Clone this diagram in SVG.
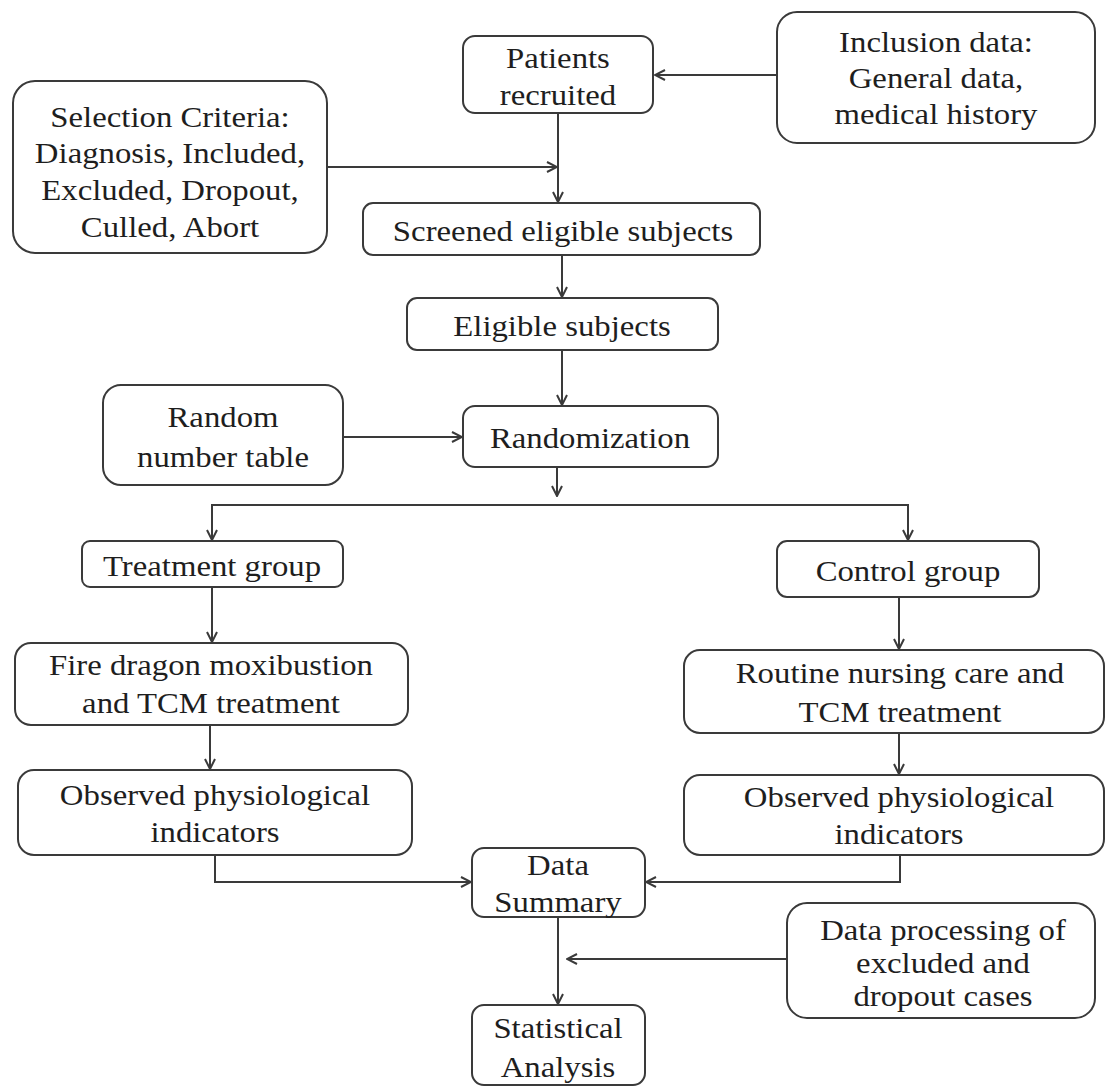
<svg xmlns="http://www.w3.org/2000/svg" width="1106" height="1087" viewBox="0 0 1106 1087">
<defs>
<style>
.box{fill:#fff;stroke:#3a3a3a;stroke-width:2}
.t{font-family:"Liberation Serif","Times New Roman",serif;font-size:29px;fill:#1e1e1e;text-anchor:middle}
.c{fill:none;stroke:#3a3a3a;stroke-width:2}
</style>
<marker id="ah" viewBox="0 0 12 12" refX="11" refY="6" markerWidth="12" markerHeight="12" markerUnits="userSpaceOnUse" orient="auto">
<path d="M1,1 L11,6 L1,11" fill="none" stroke="#3a3a3a" stroke-width="2"/>
</marker>
</defs>
<rect width="1106" height="1087" fill="#fff"/>

<g id="connectors">
<line class="c" x1="777" y1="75" x2="655" y2="75" marker-end="url(#ah)"/>
<line class="c" x1="558" y1="113" x2="558" y2="202" marker-end="url(#ah)"/>
<line class="c" x1="327" y1="167" x2="557" y2="167" marker-end="url(#ah)"/>
<line class="c" x1="562" y1="255" x2="562" y2="297" marker-end="url(#ah)"/>
<line class="c" x1="562" y1="350" x2="562" y2="405" marker-end="url(#ah)"/>
<line class="c" x1="343" y1="437" x2="462" y2="437" marker-end="url(#ah)"/>
<line class="c" x1="557" y1="467" x2="557" y2="496" marker-end="url(#ah)"/>
<polyline class="c" points="212,540 212,505 908,505 908,540"/>
<line class="c" x1="212" y1="515" x2="212" y2="540" marker-end="url(#ah)"/>
<line class="c" x1="908" y1="515" x2="908" y2="540" marker-end="url(#ah)"/>
<line class="c" x1="212" y1="587" x2="212" y2="642" marker-end="url(#ah)"/>
<line class="c" x1="899" y1="597" x2="899" y2="649" marker-end="url(#ah)"/>
<line class="c" x1="210" y1="725" x2="210" y2="769" marker-end="url(#ah)"/>
<line class="c" x1="899" y1="733" x2="899" y2="774" marker-end="url(#ah)"/>
<polyline class="c" points="215,855 215,882 471,882" marker-end="url(#ah)"/>
<polyline class="c" points="900,855 900,882 646,882" marker-end="url(#ah)"/>
<line class="c" x1="558" y1="917" x2="558" y2="1004" marker-end="url(#ah)"/>
<line class="c" x1="787" y1="959" x2="567" y2="959" marker-end="url(#ah)"/>
</g>

<g id="patients">
<rect class="box" x="463" y="36" width="190" height="77" rx="12"/>
<text class="t" transform="translate(558,0) scale(1.13,1)" y="68">Patients</text>
<text class="t" transform="translate(558,0) scale(1.13,1)" y="105">recruited</text>
</g>

<g id="inclusion">
<rect class="box" x="777" y="12" width="318" height="131" rx="20"/>
<text class="t" transform="translate(936,0) scale(1.13,1)" y="52">Inclusion data:</text>
<text class="t" transform="translate(936,0) scale(1.13,1)" y="88">General data,</text>
<text class="t" transform="translate(936,0) scale(1.13,1)" y="124">medical history</text>
</g>

<g id="selection">
<rect class="box" x="13" y="81" width="314" height="172" rx="22"/>
<text class="t" transform="translate(170,0) scale(1.13,1)" y="127">Selection Criteria:</text>
<text class="t" transform="translate(170,0) scale(1.13,1)" y="163">Diagnosis, Included,</text>
<text class="t" transform="translate(170,0) scale(1.13,1)" y="200">Excluded, Dropout,</text>
<text class="t" transform="translate(170,0) scale(1.13,1)" y="237">Culled, Abort</text>
</g>

<g id="screened">
<rect class="box" x="363" y="203" width="397" height="52" rx="10"/>
<text class="t" transform="translate(563,0) scale(1.13,1)" y="241">Screened eligible subjects</text>
</g>

<g id="eligible">
<rect class="box" x="407" y="298" width="311" height="52" rx="10"/>
<text class="t" transform="translate(562,0) scale(1.13,1)" y="336">Eligible subjects</text>
</g>

<g id="random-table">
<rect class="box" x="103" y="385" width="240" height="100" rx="18"/>
<text class="t" transform="translate(223,0) scale(1.13,1)" y="427">Random</text>
<text class="t" transform="translate(223,0) scale(1.13,1)" y="467">number table</text>
</g>

<g id="randomization">
<rect class="box" x="463" y="406" width="255" height="61" rx="12"/>
<text class="t" transform="translate(590,0) scale(1.13,1)" y="448">Randomization</text>
</g>

<g id="treatment">
<rect class="box" x="82" y="541" width="261" height="46" rx="8"/>
<text class="t" transform="translate(212,0) scale(1.13,1)" y="576">Treatment group</text>
</g>

<g id="control">
<rect class="box" x="777" y="541" width="262" height="56" rx="10"/>
<text class="t" transform="translate(908,0) scale(1.13,1)" y="581">Control group</text>
</g>

<g id="fire-dragon">
<rect class="box" x="15" y="643" width="393" height="82" rx="16"/>
<text class="t" transform="translate(211,0) scale(1.13,1)" y="675">Fire dragon moxibustion</text>
<text class="t" transform="translate(211,0) scale(1.13,1)" y="713">and TCM treatment</text>
</g>

<g id="routine">
<rect class="box" x="684" y="650" width="420" height="83" rx="16"/>
<text class="t" transform="translate(900,0) scale(1.13,1)" y="683">Routine nursing care and</text>
<text class="t" transform="translate(900,0) scale(1.13,1)" y="722">TCM treatment</text>
</g>

<g id="observed-left">
<rect class="box" x="18" y="770" width="394" height="85" rx="16"/>
<text class="t" transform="translate(215,0) scale(1.13,1)" y="805">Observed physiological</text>
<text class="t" transform="translate(215,0) scale(1.13,1)" y="842">indicators</text>
</g>

<g id="observed-right">
<rect class="box" x="684" y="775" width="420" height="80" rx="16"/>
<text class="t" transform="translate(899,0) scale(1.13,1)" y="807">Observed physiological</text>
<text class="t" transform="translate(899,0) scale(1.13,1)" y="844">indicators</text>
</g>

<g id="data-summary">
<rect class="box" x="472" y="848" width="173" height="69" rx="12"/>
<text class="t" transform="translate(558,0) scale(1.13,1)" y="875">Data</text>
<text class="t" transform="translate(558,0) scale(1.13,1)" y="912">Summary</text>
</g>

<g id="data-processing">
<rect class="box" x="787" y="903" width="308" height="115" rx="20"/>
<text class="t" transform="translate(943,0) scale(1.13,1)" y="940">Data processing of</text>
<text class="t" transform="translate(943,0) scale(1.13,1)" y="973">excluded and</text>
<text class="t" transform="translate(943,0) scale(1.13,1)" y="1006">dropout cases</text>
</g>

<g id="statistical">
<rect class="box" x="472" y="1005" width="173" height="80" rx="12"/>
<text class="t" transform="translate(558,0) scale(1.13,1)" y="1038">Statistical</text>
<text class="t" transform="translate(558,0) scale(1.13,1)" y="1077">Analysis</text>
</g>
</svg>
